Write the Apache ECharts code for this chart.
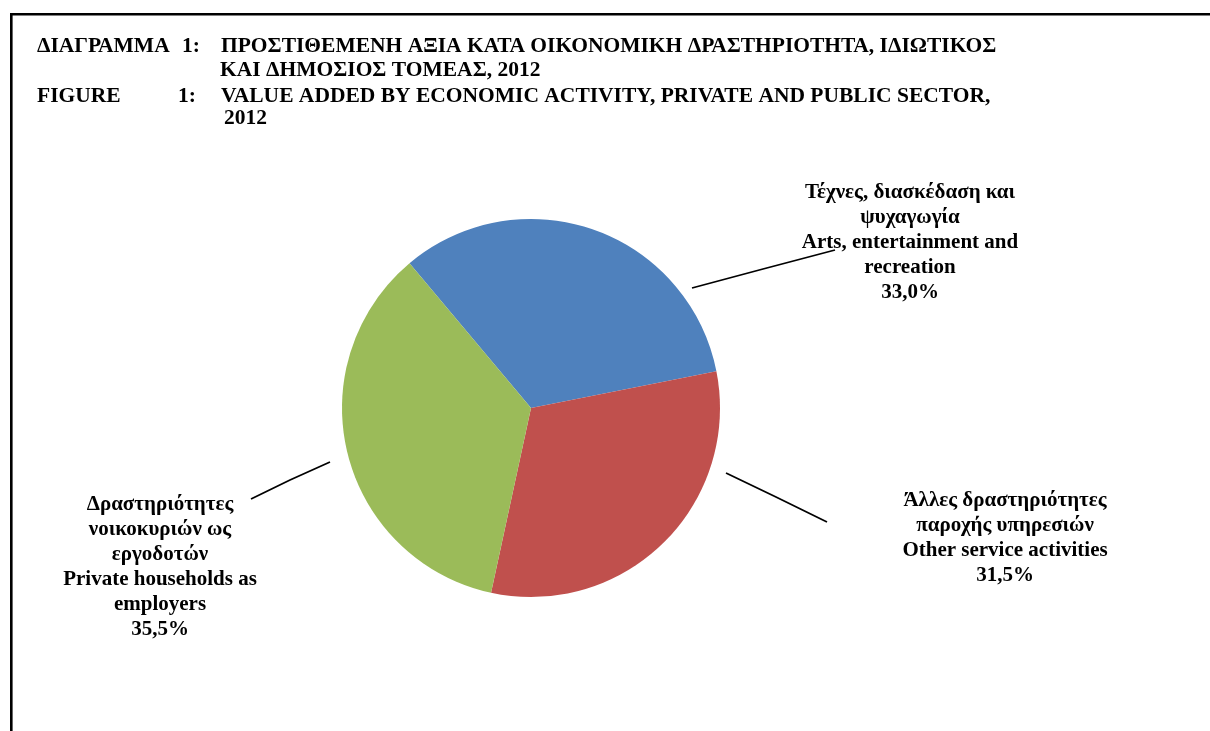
<!DOCTYPE html>
<html><head><meta charset="utf-8">
<script src="https://cdn.jsdelivr.net/npm/echarts@6/dist/echarts.min.js"></script>
<style>html,body{margin:0;padding:0;background:#fff}#c{width:1210px;height:731px}</style>
</head><body><div id="c"></div>
<script>
const categories = [
  "Τέχνες, διασκέδαση και\nψυχαγωγία\nArts, entertainment and\nrecreation",
  "Άλλες δραστηριότητες\nπαροχής υπηρεσιών\nOther service activities",
  "Δραστηριότητες\nνοικοκυριών ως\nεργοδοτών\nPrivate households as\nemployers"
];
const values = [33.0, 31.5, 35.5];
const colors = ["#4F81BD", "#C0504D", "#9BBB59"];

const chart = echarts.init(document.getElementById('c'));
const F = "'Liberation Serif', 'Times New Roman', serif";
const TF = 'bold 21.5px ' + F;
const labelPos = [
  {x: 910, y: 180, line: [[692, 288], [763, 269], [835, 250]]},
  {x: 1005, y: 488, line: [[726, 473], [776, 497], [827, 522]]},
  {x: 160, y: 492, line: [[330, 462], [290, 480], [251, 499]]}
];
function fmtPct(v){ return v.toFixed(1).replace('.', ',') + '%'; }

chart.setOption({
  animation: false,
  graphic: [
    {type: 'polyline', shape: {points: [[11.3, 731], [11.3, 14.3], [1210, 14.3]]}, style: {stroke: '#000', lineWidth: 2.6, fill: null}},
    {type: 'text', left: 37, top: 35, style: {text: 'ΔΙΑΓΡΑΜΜΑ', font: TF, fill: '#000'}},
    {type: 'text', left: 182, top: 35, style: {text: '1:', font: TF, fill: '#000'}},
    {type: 'text', left: 221, top: 35, style: {text: 'ΠΡΟΣΤΙΘΕΜΕΝΗ ΑΞΙΑ ΚΑΤΑ ΟΙΚΟΝΟΜΙΚΗ ΔΡΑΣΤΗΡΙΟΤΗΤΑ, ΙΔΙΩΤΙΚΟΣ', font: TF, fill: '#000'}},
    {type: 'text', left: 220, top: 59, style: {text: 'ΚΑΙ ΔΗΜΟΣΙΟΣ ΤΟΜΕΑΣ, 2012', font: TF, fill: '#000'}},
    {type: 'text', left: 37, top: 85, style: {text: 'FIGURE', font: TF, fill: '#000'}},
    {type: 'text', left: 178, top: 85, style: {text: '1:', font: TF, fill: '#000'}},
    {type: 'text', left: 221, top: 85, style: {text: 'VALUE ADDED BY ECONOMIC ACTIVITY, PRIVATE AND PUBLIC SECTOR,', font: TF, fill: '#000'}},
    {type: 'text', left: 224, top: 107, style: {text: '2012', font: TF, fill: '#000'}}
  ],
  series: [{
    type: 'pie',
    center: [531, 408],
    radius: [0, 189],
    startAngle: 130,
    clockwise: true,
    data: categories.map((c, i) => ({name: c, value: values[i], itemStyle: {color: colors[i]}})),
    label: {
      show: true,
      formatter: p => p.name + '\n' + fmtPct(p.value),
      fontFamily: F, fontWeight: 'bold', fontSize: 21, lineHeight: 25,
      color: '#000', align: 'center'
    },
    labelLine: {show: true, lineStyle: {color: '#000', width: 1.8}},
    labelLayout: function (params) {
      const p = labelPos[params.dataIndex];
      return {x: p.x, y: p.y, align: 'center', verticalAlign: 'top', labelLinePoints: p.line};
    },
    emphasis: {disabled: true}
  }]
});
</script></body></html>
